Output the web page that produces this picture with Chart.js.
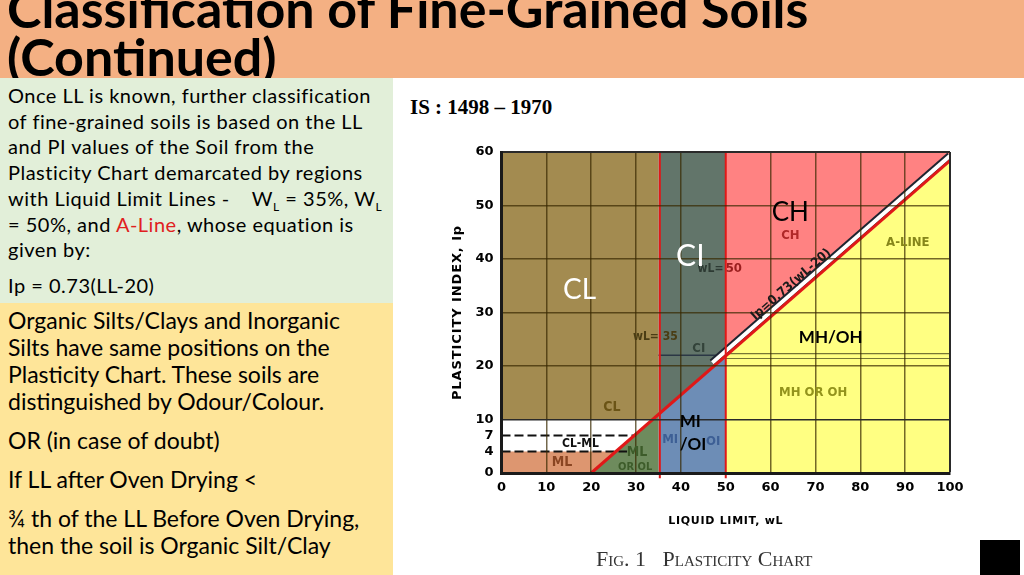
<!DOCTYPE html>
<html>
<head>
<meta charset="utf-8">
<script src="https://cdn.jsdelivr.net/npm/chart.js@4.4.0/dist/chart.umd.min.js"></script>
<style>
  html, body { margin: 0; padding: 0; }
  body { width: 1024px; height: 575px; position: relative; overflow: hidden; background: #fff; font-family: Lato, "Open Sans", sans-serif; color: #000; }
  #banner { position: absolute; left: 0; top: 0; width: 1024px; height: 78px; background: #f4b083; overflow: hidden; }
  #banner h1 { margin: 0; position: absolute; left: 7px; top: -16px; font: bold 52px/48px Lato, sans-serif; white-space: nowrap; }
  .box { position: absolute; left: 0; padding-left: 8px; box-sizing: border-box; width: 393px; }
  #green { top: 78px; height: 225px; background: #e2efd9; font-size: 20px; letter-spacing: 0.5px; line-height: 25.7px; padding-top: 5px; }
  #yellow { top: 303px; height: 272px; background: #fee599; font-size: 23px; line-height: 27px; padding-top: 4px; }
  .box p { margin: 0; white-space: nowrap; }
  .box p + p { margin-top: 12px; }
  #green p + p { margin-top: 10px; }
  sub { font-size: 12px; line-height: 0; }
  .red { color: #e02020; }
  #std { position: absolute; left: 410px; top: 95px; font: bold 21px "Liberation Serif", serif; }
  #fig { position: absolute; left: 596px; top: 546px; font: 22px "Liberation Serif", serif; font-variant: small-caps; color: #333; white-space: nowrap; }
  #plot { position: absolute; left: 400px; top: 78px; }
  #mark { position: absolute; left: 980px; top: 540px; width: 40px; height: 35px; background: #000; }
</style>
</head>
<body>
<div id="banner"><h1>Classification of Fine-Grained Soils<br>(Continued)</h1></div>
<div id="green" class="box">
  <p>Once LL is known, further classification<br>of fine-grained soils is based on the LL<br>and PI values of the Soil from the<br>Plasticity Chart demarcated by regions<br>with Liquid Limit Lines -&nbsp;&nbsp;&nbsp; W<sub>L</sub> = 35%, W<sub>L</sub><br>= 50%, and <span class="red">A-Line</span>, whose equation is<br>given by:</p>
  <p>Ip = 0.73(LL-20)</p>
</div>
<div id="yellow" class="box">
  <p>Organic Silts/Clays and Inorganic<br>Silts have same positions on the<br>Plasticity Chart. These soils are<br>distinguished by Odour/Colour.</p>
  <p>OR (in case of doubt)</p>
  <p>If LL after Oven Drying &lt;</p>
  <p>¾ th of the LL Before Oven Drying,<br>then the soil is Organic Silt/Clay</p>
</div>
<div id="std">IS : 1498 – 1970</div>
<canvas id="plot" width="624" height="497"></canvas>
<div id="fig">Fig. 1&nbsp;&nbsp;&nbsp;Plasticity Chart</div>
<div id="mark"></div>
<script>
// axis ticks
const xTicks = [0, 10, 20, 30, 40, 50, 60, 70, 80, 90, 100];
const yTicks = [0, 4, 7, 10, 20, 30, 40, 50, 60];

// region outlines (liquid limit, plasticity index)
const clZone = [{x: 0, y: 10}, {x: 33.7, y: 10}, {x: 35, y: 10.95}, {x: 35, y: 60}, {x: 0, y: 60}, {x: 0, y: 10}];
const mlZone = [{x: 0, y: 0}, {x: 20, y: 0}, {x: 25.5, y: 4}, {x: 0, y: 4}, {x: 0, y: 0}];
const mlOlZone = [{x: 20, y: 0}, {x: 35, y: 0}, {x: 35, y: 10.95}, {x: 20, y: 0}];
const ciZone = [{x: 35, y: 10.95}, {x: 50, y: 21.9}, {x: 50, y: 60}, {x: 35, y: 60}, {x: 35, y: 10.95}];
const miZone = [{x: 35, y: 0}, {x: 50, y: 0}, {x: 50, y: 21.9}, {x: 35, y: 10.95}, {x: 35, y: 0}];
const chZone = [{x: 50, y: 21.9}, {x: 100, y: 58.4}, {x: 100, y: 60}, {x: 50, y: 60}, {x: 50, y: 21.9}];
const mhZone = [{x: 50, y: 0}, {x: 100, y: 0}, {x: 100, y: 58.4}, {x: 50, y: 21.9}, {x: 50, y: 0}];

// lines
const aLine = [{x: 20, y: 0}, {x: 100, y: 58.4}];
const aLineBand = [{x: 47, y: 20.6}, {x: 100, y: 59.3}];
const ll35 = [{x: 35.3, y: -1}, {x: 35.3, y: 60}];
const ll50 = [{x: 50, y: -1}, {x: 50, y: 60}];
const dash4 = [{x: 0, y: 4}, {x: 28, y: 4}];
const dash7 = [{x: 0, y: 7}, {x: 30, y: 7}];
const ciLow = [{x: 35, y: 22}, {x: 48, y: 22}];
const mhTop1 = [{x: 50, y: 21.4}, {x: 100, y: 21.4}];
const mhTop2 = [{x: 50, y: 22.3}, {x: 100, y: 22.3}];

// labels printed on the original chart
const printedLabels = [
  {t: 'CL', x: 24.6, y: 12.2, c: '#6b5416', s: 14},
  {t: 'ML', x: 13.5, y: 1.9, c: '#8a4522', s: 14},
  {t: 'ML', x: 30.2, y: 3.9, c: '#3d5c2a', s: 14},
  {t: 'OR OL', x: 29.8, y: 1.1, c: '#3d5c2a', s: 11},
  {t: 'CL-ML', x: 17.6, y: 5.4, c: '#111', s: 12},
  {t: 'MI', x: 37.6, y: 6.2, c: '#3d5f95', s: 13},
  {t: 'OI', x: 47.2, y: 5.8, c: '#3d5f95', s: 13},
  {t: 'CI', x: 44, y: 23.2, c: '#33433a', s: 13},
  {t: 'wL= 35', x: 34.3, y: 25.5, c: '#4a3d14', s: 12},
  {t: 'wL=', x: 46.6, y: 38.2, c: '#2d3a33', s: 12},
  {t: '50', x: 51.8, y: 38.2, c: '#9a1e1e', s: 13},
  {t: 'CH', x: 64.4, y: 44.4, c: '#b02828', s: 13},
  {t: 'A-LINE', x: 90.6, y: 43.1, c: '#86861a', s: 13},
  {t: 'MH OR OH', x: 69.5, y: 15, c: '#93931c', s: 13}
];

// labels added over the picture
const overlayLabels = [
  {t: 'CL', x: 17.4, y: 34.3, c: '#fff', f: '28px Lato'},
  {t: 'CI', x: 42.1, y: 40.5, c: '#fff', f: '30px Lato'},
  {t: 'CH', x: 64.4, y: 48.6, c: '#000', f: '26px Lato'},
  {t: 'MH/OH', x: 73.4, y: 25.3, c: '#000', f: 'bold 17px Lato'},
  {t: 'MI', x: 42.1, y: 9.6, c: '#000', f: 'bold 17px Lato'},
  {t: '/OI', x: 42.7, y: 5.3, c: '#000', f: 'bold 17px Lato'}
];

function zone(data, color) {
  return {data: data, backgroundColor: color, borderWidth: 0, fill: 'shape', order: 10};
}
function line(data, color, width, extra) {
  return Object.assign({data: data, borderColor: color, borderWidth: width, fill: false}, extra || {});
}

const gridDark = 'rgba(55,40,0,0.7)';

// wider letter spacing for the axis titles
const spacedTitles = {
  id: 'spacedTitles',
  beforeDraw(chart) {
    [['x', '0.7px'], ['y', '0.9px']].forEach(([id, gap]) => {
      const s = chart.scales[id];
      if (s._spaced) return;
      const orig = s.drawTitle.bind(s);
      s.drawTitle = function () {
        chart.ctx.save();
        chart.ctx.letterSpacing = gap;
        orig();
        chart.ctx.restore();
      };
      s._spaced = true;
    });
  }
};

const notesPlugin = {
  id: 'notes',
  afterDraw(chart) {
    const ctx = chart.ctx;
    const xs = chart.scales.x, ys = chart.scales.y;
    ctx.save();
    ctx.textAlign = 'center';
    ctx.textBaseline = 'middle';
    printedLabels.forEach(l => {
      ctx.font = 'bold ' + l.s + 'px "DejaVu Sans Condensed", "DejaVu Sans", sans-serif';
      ctx.fillStyle = l.c;
      ctx.fillText(l.t, xs.getPixelForValue(l.x), ys.getPixelForValue(l.y));
    });
    // equation along the A-line
    const px = xs.getPixelForValue(64.6), py = ys.getPixelForValue(35.2);
    const ang = Math.atan2(ys.getPixelForValue(58.4) - ys.getPixelForValue(0), xs.getPixelForValue(100) - xs.getPixelForValue(20));
    ctx.translate(px, py);
    ctx.rotate(ang);
    ctx.font = 'bold 13px "DejaVu Sans Condensed", "DejaVu Sans", sans-serif';
    ctx.fillStyle = '#1a1a1a';
    ctx.fillText('Ip=0.73(wL-20)', 0, 0);
    ctx.restore();
    ctx.save();
    ctx.textAlign = 'center';
    ctx.textBaseline = 'middle';
    overlayLabels.forEach(l => {
      ctx.font = l.f + ', "Open Sans", sans-serif';
      ctx.fillStyle = l.c;
      ctx.fillText(l.t, xs.getPixelForValue(l.x), ys.getPixelForValue(l.y));
    });
    ctx.restore();
  }
};

new Chart(document.getElementById('plot'), {
  type: 'line',
  data: {
    datasets: [
      line(ll35, '#e01818', 2, {order: 1, clip: false}),
      line(ll50, '#e01818', 2, {order: 1, clip: false}),
      line(aLine, '#e01818', 3, {order: 1, clip: false}),
      line(aLineBand, '#fff', 4, {order: 2}),
      line(aLineBand, '#1f2430', 8, {order: 3}),
      line(dash4, '#111', 2, {order: 4, borderDash: [9, 4]}),
      line(dash7, '#111', 2, {order: 4, borderDash: [9, 4]}),
      line(ciLow, 'rgba(30,40,60,0.8)', 1.5, {order: 4}),
      line(mhTop1, 'rgba(60,60,20,0.7)', 1.2, {order: 4}),
      line(mhTop2, 'rgba(60,60,20,0.7)', 1.2, {order: 4}),
      zone(clZone, '#a38b50'),
      zone(mlZone, '#dd9670'),
      zone(mlOlZone, '#6e8b5d'),
      zone(ciZone, '#62756a'),
      zone(miZone, '#6d8db6'),
      zone(chZone, '#ff8282'),
      zone(mhZone, '#ffff82')
    ]
  },
  options: {
    responsive: false,
    animation: false,
    elements: {point: {radius: 0, hoverRadius: 0}, line: {tension: 0}},
    layout: {padding: {top: 74, right: 74, bottom: 40, left: 0}},
    plugins: {legend: {display: false}, tooltip: {enabled: false}},
    scales: {
      x: {
        type: 'linear', min: 0, max: 100,
        afterBuildTicks: s => { s.ticks = xTicks.map(v => ({value: v})); },
        afterFit: s => { s.height = 62; },
        ticks: {padding: 7, color: '#000', font: {family: '"DejaVu Sans"', weight: 'bold', size: 13}},
        grid: {
          z: 1,
          drawTicks: false,
          lineWidth: c => (c.tick.value === 100 ? 2 : 1.5),
          color: c => {
            const v = c.tick.value;
            if (v === 0 || v === 50) return 'transparent';
            if (v === 100) return '#2a2a2a';
            return gridDark;
          }
        },
        border: {display: true, color: '#1a1a1a', width: 3, z: 1},
        title: {display: true, text: 'LIQUID LIMIT, wL', color: '#000', padding: {top: 0, bottom: 7}, font: {family: '"DejaVu Sans"', weight: 'bold', size: 11}}
      },
      y: {
        type: 'linear', min: 0, max: 60,
        afterBuildTicks: s => { s.ticks = yTicks.map(v => ({value: v})); },
        afterFit: s => { s.width = 101.5; },
        ticks: {padding: 8, autoSkip: false, color: '#000', font: {family: '"DejaVu Sans"', weight: 'bold', size: 13}},
        grid: {
          z: 1,
          drawTicks: false,
          lineWidth: c => (c.tick.value === 60 ? 2 : 1.5),
          color: c => {
            const v = c.tick.value;
            if (v === 0 || v === 4 || v === 7) return 'transparent';
            if (v === 60 || v === 10) return '#2a2a2a';
            return gridDark;
          }
        },
        border: {display: true, color: '#1a1a1a', width: 3, z: 1},
        title: {display: true, text: 'PLASTICITY INDEX, Ip', color: '#000', padding: {top: 50, bottom: 0}, font: {family: '"DejaVu Sans"', weight: 'bold', size: 13}}
      }
    }
  },
  plugins: [spacedTitles, notesPlugin]
});
</script>
</body>
</html>
